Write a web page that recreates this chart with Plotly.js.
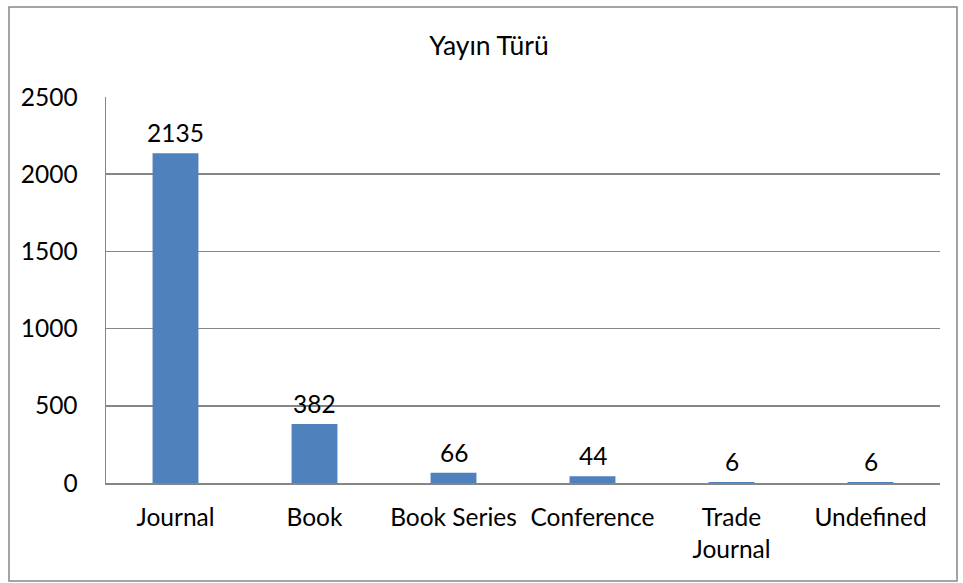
<!DOCTYPE html>
<html>
<head>
<meta charset="utf-8">
<script src="https://cdn.plot.ly/plotly-3.0.1.min.js"></script>
<style>
  html, body { margin: 0; padding: 0; background: #ffffff; }
  #chart { width: 963px; height: 583px; }
</style>
</head>
<body>
<div id="chart"></div>
<script>
const categories = ["Journal", "Book", "Book Series", "Conference", "Trade<br>Journal", "Undefined"];
const counts = [2135, 382, 66, 44, 6, 6];
const yTickValues = [0, 500, 1000, 1500, 2000, 2500];
const chartTitle = "Yayın Türü";

const FONT = "Lato, 'Open Sans', sans-serif";
const FS = 24.5;
const GRID = "#868686";

const trace = {
  type: "bar",
  x: categories,
  y: counts,
  width: 0.33,
  marker: { color: "#4F81BD" },
  hoverinfo: "x+y"
};

const labels = categories.map((c, i) => ({
  x: c,
  y: counts[i],
  xref: "x", yref: "y",
  text: String(counts[i]),
  showarrow: false,
  xanchor: "center",
  yanchor: "bottom",
  yshift: 4,
  font: { family: FONT, size: FS, color: "#000000" }
}));

const L = 106, R = 940, T = 97, B = 483, W = 963, H = 583;
const pw = R - L, ph = B - T;

const layout = {
  width: W, height: H,
  margin: { l: L, r: W - R, t: T, b: H - B, pad: 0 },
  paper_bgcolor: "#ffffff",
  plot_bgcolor: "#ffffff",
  showlegend: false,
  font: { family: FONT, size: FS, color: "#000000" },
  title: {
    text: chartTitle,
    font: { family: FONT, size: 26.5, color: "#000000" },
    x: 489 / W, xanchor: "center",
    y: 1 - 46 / H, yanchor: "middle",
    xref: "container", yref: "container"
  },
  xaxis: {
    type: "category",
    showgrid: false,
    showline: true,
    linecolor: GRID,
    linewidth: 1.5,
    ticks: "",
    tickangle: 0,
    ticklabelstandoff: 12,
    tickfont: { family: FONT, size: FS, color: "#000000" },
    zeroline: false
  },
  yaxis: {
    range: [0, 2500],
    tickvals: yTickValues,
    ticktext: yTickValues.map(String),
    showgrid: true,
    gridcolor: GRID,
    gridwidth: 1.5,
    showline: true,
    linecolor: GRID,
    linewidth: 1.5,
    ticks: "",
    ticklabelstandoff: 22,
    tickfont: { family: FONT, size: FS, color: "#000000" },
    zeroline: false
  },
  annotations: labels,
  shapes: [{
    type: "rect",
    xref: "paper", yref: "paper",
    x0: (9 - L) / pw, x1: (957 - L) / pw,
    y0: (B - 581) / ph, y1: (B - 7) / ph,
    line: { color: GRID, width: 1.5 },
    fillcolor: "rgba(0,0,0,0)",
    layer: "below"
  }]
};

Plotly.newPlot("chart", [trace], layout, { displayModeBar: false, staticPlot: true });
</script>
</body>
</html>
